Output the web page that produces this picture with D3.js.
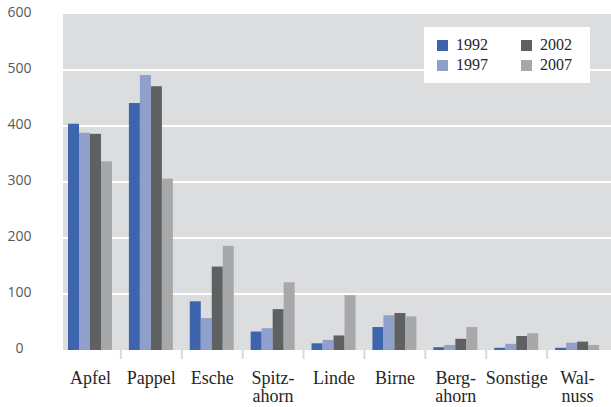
<!DOCTYPE html>
<html>
<head>
<meta charset="utf-8">
<script src="https://cdn.jsdelivr.net/npm/d3@7"></script>
<style>
  body { margin: 0; background: #fff; }
</style>
</head>
<body>
<div id="chart"></div>
<script>
// data
var categories = ["Apfel", "Pappel", "Esche", "Spitz-\nahorn", "Linde", "Birne", "Berg-\nahorn", "Sonstige", "Wal-\nnuss"];
var years = ["1992", "1997", "2002", "2007"];
var v1992 = [404, 441, 87, 33, 12, 41, 5, 4, 4];
var v1997 = [388, 491, 57, 39, 18, 62, 9, 11, 13];
var v2002 = [386, 471, 149, 73, 26, 66, 20, 25, 15];
var v2007 = [337, 306, 186, 121, 98, 60, 41, 30, 9];
var yTicks = [0, 100, 200, 300, 400, 500, 600];
var colors = ["#3d64ac", "#8fa0cc", "#5f6062", "#a7a8aa"];

var series = [v1992, v1997, v2002, v2007];
var width = 611, height = 407;

var svg = d3.select("#chart").append("svg")
    .attr("width", width)
    .attr("height", height);

var x = d3.scaleBand()
    .domain(categories)
    .range([60, 608]);

var xi = d3.scaleBand()
    .domain(years)
    .range([8, 52]);

var y = d3.scaleLinear()
    .domain([0, 600])
    .range([350, 14]);

var color = d3.scaleOrdinal().domain(years).range(colors);

// plot background
svg.append("rect")
    .attr("x", 63)
    .attr("y", y(600))
    .attr("width", width - 63)
    .attr("height", y(0) - y(600))
    .attr("fill", "#dcdddf");

// gridlines
svg.append("g")
    .selectAll("line")
    .data(yTicks.filter(function(d) { return d > 0 && d < 600; }))
    .enter().append("line")
    .attr("x1", 63)
    .attr("x2", width)
    .attr("y1", function(d) { return y(d); })
    .attr("y2", function(d) { return y(d); })
    .attr("stroke", "#fff")
    .attr("stroke-width", 2);

// y labels
svg.append("g")
    .selectAll("text")
    .data(yTicks)
    .enter().append("text")
    .attr("x", 19.5)
    .attr("y", function(d) { return y(d) - 1.5; })
    .attr("dy", "0.35em")
    .attr("text-anchor", "middle")
    .style("font-family", "'Open Sans', sans-serif")
    .style("font-size", "14px")
    .attr("fill", "#595959")
    .text(function(d) { return d; });

// bars
var groups = svg.append("g")
    .selectAll("g")
    .data(categories)
    .enter().append("g")
    .attr("transform", function(d) { return "translate(" + x(d) + ",0)"; });

groups.selectAll("rect")
    .data(function(d, i) {
        return years.map(function(yr, j) { return { year: yr, value: series[j][i] }; });
    })
    .enter().append("rect")
    .attr("x", function(d) { return xi(d.year); })
    .attr("width", xi.bandwidth())
    .attr("y", function(d) { return y(d.value); })
    .attr("height", function(d) { return y(0) - y(d.value); })
    .attr("fill", function(d) { return color(d.year); });

// category ticks
svg.append("g")
    .selectAll("line")
    .data(categories.slice(1))
    .enter().append("line")
    .attr("x1", function(d) { return x(d); })
    .attr("x2", function(d) { return x(d); })
    .attr("y1", 350)
    .attr("y2", 359)
    .attr("stroke", "#d9d9d9")
    .attr("stroke-width", 2);

// category labels
var labels = svg.append("g")
    .selectAll("text")
    .data(categories)
    .enter().append("text")
    .attr("x", function(d) { return x(d) + x.bandwidth() / 2; })
    .attr("y", 384)
    .attr("text-anchor", "middle")
    .style("font-family", "'Liberation Serif', serif")
    .style("font-size", "18px")
    .attr("fill", "#262626");

labels.selectAll("tspan")
    .data(function(d) { return d.split("\n"); })
    .enter().append("tspan")
    .attr("x", function() { return d3.select(this.parentNode).attr("x"); })
    .attr("dy", function(d, i) { return i ? 18 : 0; })
    .text(function(d) { return d; });

// legend
var legend = svg.append("g");
legend.append("rect")
    .attr("x", 424)
    .attr("y", 27)
    .attr("width", 166)
    .attr("height", 56)
    .attr("fill", "#fff");

var item = legend.selectAll(".legend")
    .data(years)
    .enter().append("g")
    .attr("class", "legend")
    .attr("transform", function(d, i) {
        return "translate(" + (437 + Math.floor(i / 2) * 84) + "," + (40 + (i % 2) * 20) + ")";
    });

item.append("rect")
    .attr("width", 11)
    .attr("height", 11)
    .attr("fill", color);

item.append("text")
    .attr("x", 19)
    .attr("y", 10)
    .style("font-family", "'Liberation Serif', serif")
    .style("font-size", "16px")
    .attr("fill", "#262626")
    .text(function(d) { return d; });
</script>
</body>
</html>
